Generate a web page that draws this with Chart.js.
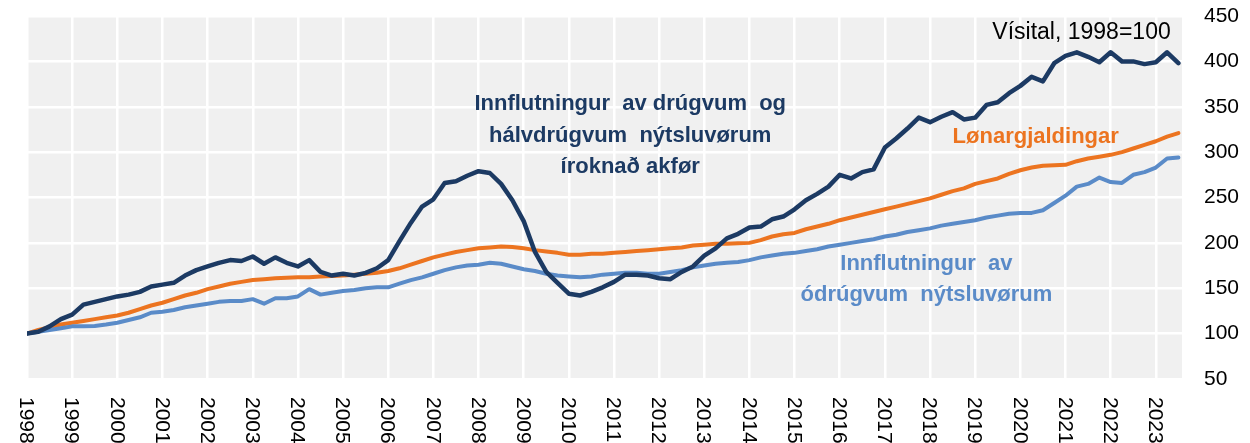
<!DOCTYPE html>
<html lang="fo">
<head>
  <meta charset="UTF-8">
  <title>Innflutningur og lønargjaldingar</title>
  <script src="https://cdn.jsdelivr.net/npm/chart.js"></script>
  <style>
    body { margin: 0; background: #fff; }
    #wrap { width: 1250px; height: 443px; }
  </style>
</head>
<body>
<div id="wrap"><canvas id="chart" width="1250" height="443"></canvas></div>

<script>
  // quarterly values, 1998 K1 .. 2023 K3 (index, 1998=100)
  const durable = [
    100, 102, 108, 116,   121, 132, 135, 138,   141, 143, 146, 152,   154, 156, 164, 170,
    174, 178, 181, 180,   185, 177, 184, 178,   174, 181, 168, 164,   166, 164, 167, 172,
    181, 202, 222, 240,   248, 266, 268, 274,   279, 277, 265, 247,   224, 190, 168, 156,
    144, 142, 146, 151,   157, 165, 165, 164,   161, 160, 168, 174,   186, 194, 205, 210,
    217, 218, 226, 229,   237, 247, 254, 262,   275, 271, 278, 281,   305, 315, 326, 338,
    333, 339, 344, 336,   338, 352, 355, 365,   373, 383, 378, 398,   406, 410, 405, 399,
    410, 400, 400, 397,   399, 410, 398
  ];
  const wages = [
    100, 104, 107, 110,   112, 114, 116, 118,   120, 123, 127, 131,   134, 138, 142, 145,
    149, 152, 155, 157,   159, 160, 161, 161.5, 162, 162, 163, 163.5, 164, 165, 166, 167,
    169, 172, 176, 180,   184, 187, 190, 192,   194, 195, 196, 195.5, 194, 192, 190.5, 189,
    187, 187, 188, 188,   189, 190, 191, 192,   193, 194, 195, 197,   198, 199, 199, 199.5,
    200, 203, 207, 209.5, 211, 215, 218, 221,   225, 228, 231, 234,   237, 240, 243, 246,
    249, 253, 257, 260,   265, 268, 271, 276,   280, 283, 285, 285.5, 286, 290, 293, 295,
    297, 300, 304, 308,   312, 317, 321
  ];
  const nonDurable = [
    100, 102, 104, 106,   108, 108, 108.5, 110, 112, 115, 118, 123,   124, 126, 129, 131,
    133, 135, 136, 136,   138, 133, 139, 139,   141, 149, 143, 145,   147, 148, 150, 151,
    151, 155, 159, 162,   166, 170, 173, 175,   176, 178, 177, 174,   171, 169, 166, 164,
    163, 162, 163, 165,   166, 167, 167, 166,   166, 168, 170, 173,   175, 177, 178, 179,
    181, 184, 186, 188,   189, 191, 193, 196,   198, 200, 202, 204,   207, 209, 212, 214,
    216, 219, 221, 223,   225, 228, 230, 232,   233, 233, 236, 244,   252, 262, 265, 272,
    267, 266, 275, 278,   283, 293, 294
  ];
  const quarters = durable.map((_, i) => 1998 + i / 4);
  const yearTicks = [];
  for (let y = 1998; y <= 2023; y++) yearTicks.push(y);

  const FONT = "'Liberation Sans', Arial, sans-serif";
  const DARK = "#1c3a63", ORANGE = "#ec7420", BLUE = "#5a8bc8";

  const toPoints = arr => arr.map((v, i) => ({ x: quarters[i], y: v }));

  // grey plot background + rotated year labels + text notes
  const decor = {
    id: "decor",
    beforeDraw(chart) {
      const { ctx, chartArea: a } = chart;
      ctx.save();
      ctx.fillStyle = "#f0f0f0";
      ctx.fillRect(a.left, a.top, a.right - a.left, a.bottom - a.top);
      ctx.restore();
    },
    afterDraw(chart) {
      const { ctx, scales: { x, y } } = chart;
      ctx.save();
      ctx.fillStyle = "#000";
      ctx.font = "21px " + FONT;
      ctx.textAlign = "left";
      ctx.textBaseline = "middle";
      yearTicks.forEach(yr => {
        ctx.save();
        ctx.translate(x.getPixelForValue(yr) - 1, chart.chartArea.bottom + 18);
        ctx.rotate(Math.PI / 2);
        ctx.fillText(String(yr), 0, 0);
        ctx.restore();
      });

      ctx.textBaseline = "alphabetic";
      ctx.textAlign = "right";
      ctx.font = "23px " + FONT;
      ctx.fillText("Vísital, 1998=100", x.getPixelForValue(2023.33), y.getPixelForValue(425));

      ctx.textAlign = "center";
      ctx.font = "bold 22px " + FONT;
      ctx.fillStyle = DARK;
      const cx = x.getPixelForValue(2011.36);
      ctx.fillText("Innflutningur  av drúgvum  og", cx, y.getPixelForValue(346));
      ctx.fillText("hálvdrúgvum  nýtsluvørum", cx, y.getPixelForValue(311));
      ctx.fillText("íroknað akfør", cx, y.getPixelForValue(277));

      ctx.fillStyle = ORANGE;
      ctx.fillText("Lønargjaldingar", x.getPixelForValue(2020.34), y.getPixelForValue(310));

      ctx.fillStyle = BLUE;
      const bx = x.getPixelForValue(2017.92);
      ctx.fillText("Innflutningur  av", bx, y.getPixelForValue(170.6));
      ctx.fillText("ódrúgvum  nýtsluvørum", bx, y.getPixelForValue(135.5));
      ctx.restore();
    }
  };

  new Chart(document.getElementById("chart"), {
    type: "line",
    data: {
      datasets: [
        { label: "Innflutningur av drúgvum og hálvdrúgvum nýtsluvørum íroknað akfør",
          data: toPoints(durable), borderColor: DARK, order: 0, borderWidth: 4.5 },
        { label: "Innflutningur av ódrúgvum nýtsluvørum",
          data: toPoints(nonDurable), borderColor: BLUE, order: 1 },
        { label: "Lønargjaldingar",
          data: toPoints(wages), borderColor: ORANGE, order: 2 }
      ]
    },
    options: {
      responsive: false,
      animation: false,
      layout: { padding: { left: 27, top: 16, right: 0, bottom: 0 } },
      elements: {
        point: { radius: 0 },
        line: { borderWidth: 4, tension: 0, borderCapStyle: "round", borderJoinStyle: "round" }
      },
      plugins: { legend: { display: false }, tooltip: { enabled: false } },
      scales: {
        x: {
          type: "linear",
          min: 1998,
          max: 2023.58,
          ticks: { stepSize: 1, includeBounds: false, display: false },
          grid: { color: "#ffffff", lineWidth: 2.5, drawTicks: false },
          border: { display: false },
          afterFit: s => { s.height = 64; s.paddingLeft = 0; s.paddingRight = 0; }
        },
        y: {
          position: "right",
          min: 50,
          max: 450,
          ticks: { stepSize: 50, padding: 22, color: "#000", font: { family: FONT, size: 21 } },
          grid: { color: "#ffffff", lineWidth: 2.5, drawTicks: false },
          border: { display: false },
          afterFit: s => { s.width = 68; s.paddingTop = 0; s.paddingBottom = 0; }
        }
      }
    },
    plugins: [decor]
  });
</script>
</body>
</html>
